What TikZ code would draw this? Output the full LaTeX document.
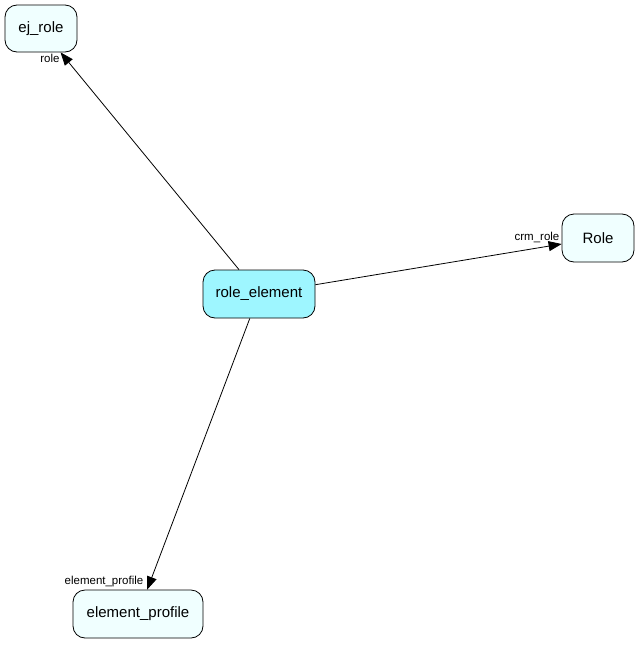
\documentclass[tikz,border=0pt]{standalone}
\usepackage{fontspec}
\setmainfont{Liberation Sans}
\usetikzlibrary{arrows.meta}
\definecolor{pale}{HTML}{F0FFFF}
\definecolor{hot}{HTML}{9EF6FF}
\begin{document}
\begin{tikzpicture}[x=1pt,y=-1pt,
  ent/.style={draw=black,line width=0.8pt,rounded corners=12pt,fill=pale,inner sep=0pt,
    font=\fontsize{15}{18}\selectfont},
  rel/.style={draw=black,line width=0.8pt,-{Triangle[length=13pt,width=10pt]}},
  lab/.style={font=\fontsize{11.5}{13}\selectfont,inner sep=0pt}]
\useasboundingbox (0,0) rectangle (639,645);
\node[ent,minimum width=72pt,minimum height=47pt] (ej) at (41,28.5) {ej\_role};
\node[ent,minimum width=72pt,minimum height=48pt] (role) at (598,238) {Role};
\node[ent,fill=hot,minimum width=112pt,minimum height=48pt] (re) at (259,294) {role\_element};
\node[ent,minimum width=130pt,minimum height=48pt] (ep) at (138,614) {element\_profile};
\draw[rel] (re) -- (ej);
\draw[rel] (re) -- (role);
\draw[rel] (re) -- (ep);
\node[lab] (l1) at (50,58) {role};
\node[lab] (l2) at (537,237) {crm\_role};
\node[lab] (l3) at (104,582) {element\_profile};
\end{tikzpicture}
\end{document}
